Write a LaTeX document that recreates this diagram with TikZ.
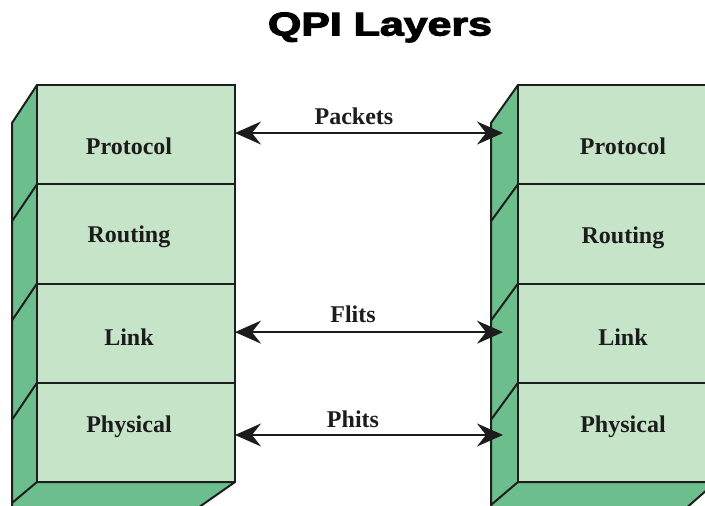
\documentclass[tikz,border=0pt]{standalone}
\usepackage{fontspec}
\usepackage{graphicx}
\setmainfont{Liberation Serif}
\newfontfamily\titlefont{Liberation Sans Bold}[FakeBold=3]
\usetikzlibrary{arrows.meta}

\definecolor{frontgreen}{RGB}{198,228,200}
\definecolor{sidegreen}{RGB}{108,190,140}
\definecolor{edge}{RGB}{30,30,30}
\definecolor{ink}{RGB}{28,28,28}

\tikzset{
  layerbox/.style={draw=edge, line width=2pt, fill=frontgreen,
    minimum width=198pt, minimum height=99.25pt, inner sep=0pt, outer sep=0pt},
  face/.style={draw=edge, line width=2pt, fill=sidegreen, line join=round},
  seam/.style={draw=edge, line width=2pt},
  lbl/.style={font=\fontsize{24}{28}\selectfont\bfseries, text=ink, anchor=base, inner sep=0pt},
  tip/.tip={Stealth[length=26pt,width=23pt,inset=9pt]},
  arr/.style={tip-tip, line width=2pt, draw=ink},
}

\begin{document}
\begin{tikzpicture}[x=1pt,y=-1pt]
\useasboundingbox (0,0) rectangle (705,506);
\clip (0,0) rectangle (705,506);

% title
\node[anchor=base, text=black, inner sep=0pt] (title) at (380,35.5)
  {\scalebox{1.34}[1.03]{\titlefont\fontsize{32}{36}\selectfont QPI Layers}};

% left stack: side and bottom faces
\filldraw[face] (37,85) -- (12,123) -- (12,520) -- (37,482) -- cycle;
\filldraw[face] (37,482) -- (235,482) -- (185,517) -- (12,517) -- (12,503) -- cycle;
\foreach \y in {184.25,283.5,382.75} \draw[seam] (37,\y) -- (12,\y+37);

% right stack: side and bottom faces
\filldraw[face] (518,85) -- (491,123) -- (491,520) -- (518,482) -- cycle;
\filldraw[face] (518,482) -- (716,482) -- (676,517) -- (491,517) -- (491,505) -- cycle;
\foreach \y in {184.25,283.5,382.75} \draw[seam] (518,\y) -- (491,\y+37);

% front faces, one box per layer
\node[layerbox] (lprot) at (136,134.625) {};
\node[layerbox] (lrout) at (136,233.875) {};
\node[layerbox] (llink) at (136,333.125) {};
\node[layerbox] (lphys) at (136,432.375) {};
\node[layerbox] (rprot) at (617,134.625) {};
\node[layerbox] (rrout) at (617,233.875) {};
\node[layerbox] (rlink) at (617,333.125) {};
\node[layerbox] (rphys) at (617,432.375) {};

% layer names
\node[lbl] at (129,154) {Protocol};
\node[lbl] at (129,242) {Routing};
\node[lbl] at (129,345) {Link};
\node[lbl] at (129,432) {Physical};
\node[lbl] at (623,154) {Protocol};
\node[lbl] at (623,243) {Routing};
\node[lbl] at (623,345) {Link};
\node[lbl] at (623,432) {Physical};

% peer-to-peer exchange units
\draw[arr, shorten >=15pt] ([yshift=1.6pt]lprot.east) -- ([yshift=1.6pt]rprot.west);
\draw[arr, shorten >=15pt] ([yshift=1pt]llink.east) -- ([yshift=1pt]rlink.west);
\draw[arr, shorten >=15pt] ([yshift=-2.6pt]lphys.east) -- ([yshift=-2.6pt]rphys.west);

\node[lbl] at (354,124) {Packets};
\node[lbl] at (353,322) {Flits};
\node[lbl] at (353,427) {Phits};
\end{tikzpicture}
\end{document}
